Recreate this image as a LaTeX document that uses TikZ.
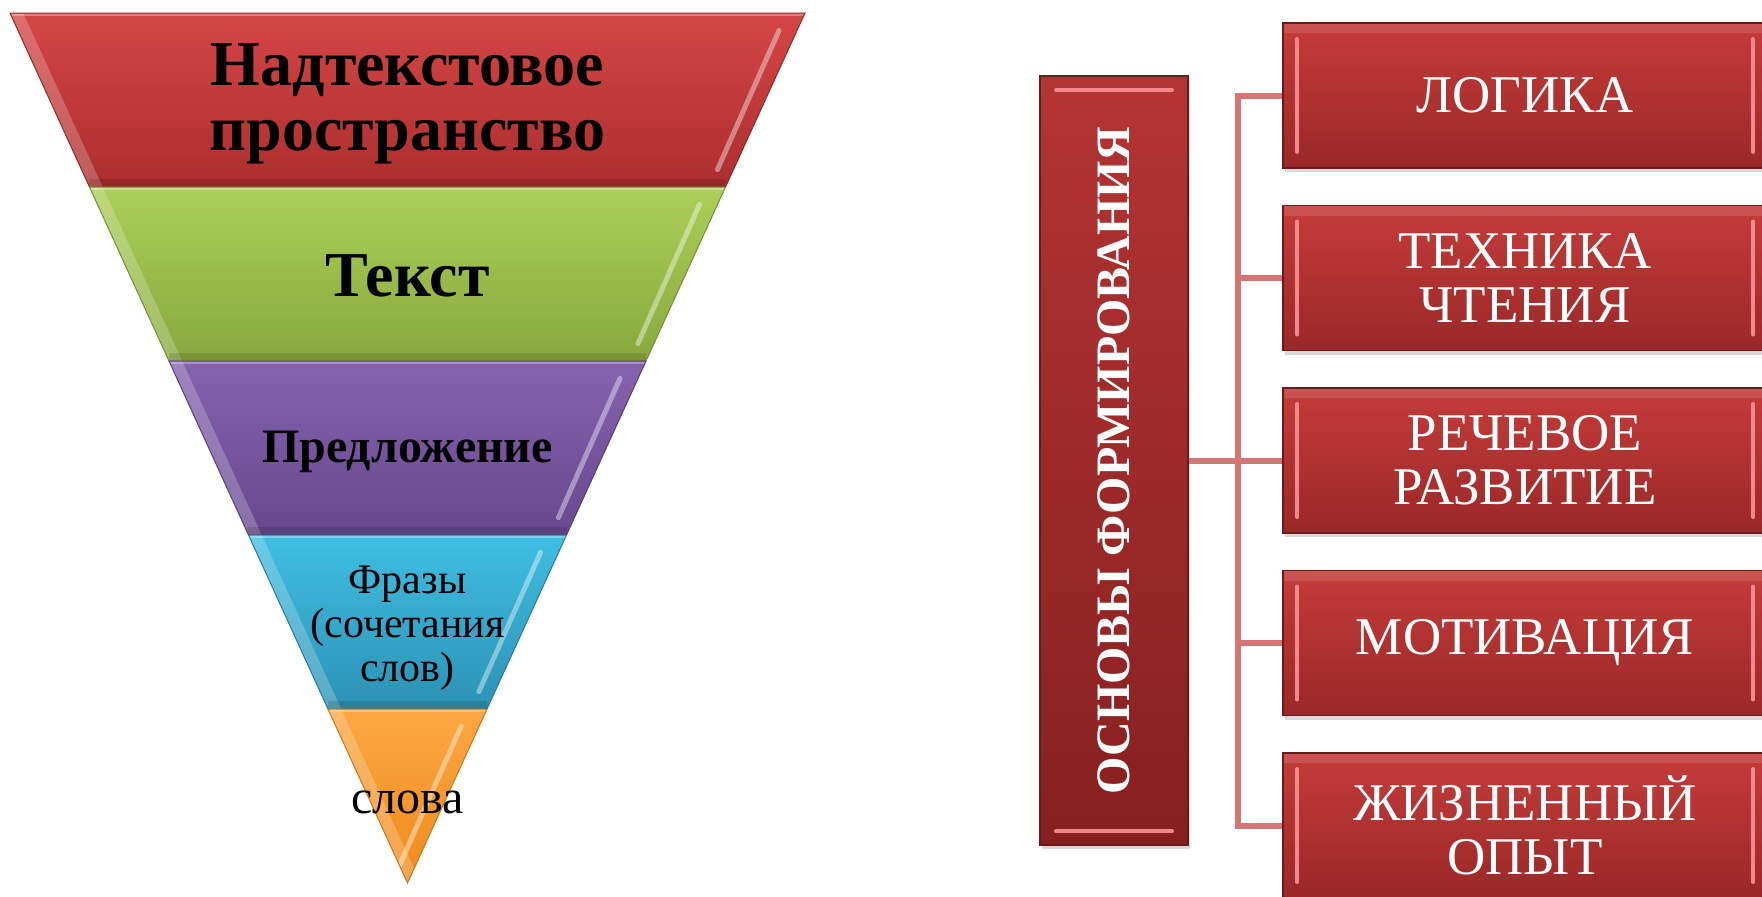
\documentclass[tikz,border=0pt]{standalone}
\usepackage{fontspec}
\setmainfont{Liberation Serif}
\usepackage{graphicx}
\usetikzlibrary{calc,shadows}

\definecolor{redA}{HTML}{D44646}
\definecolor{redB}{HTML}{AC2E2E}
\definecolor{grnA}{HTML}{ACCF58}
\definecolor{grnB}{HTML}{88A83E}
\definecolor{purA}{HTML}{8563AF}
\definecolor{purB}{HTML}{68488E}
\definecolor{bluA}{HTML}{40BEE2}
\definecolor{bluB}{HTML}{2C92B4}
\definecolor{ornA}{HTML}{FCA842}
\definecolor{ornB}{HTML}{EE8A1E}
\definecolor{boxtop}{HTML}{C43C3A}
\definecolor{boxbot}{HTML}{9A2828}
\definecolor{boxedge}{HTML}{6A1A1A}
\definecolor{boxhi}{HTML}{F08A8A}
\definecolor{maintop}{HTML}{B43434}
\definecolor{mainbot}{HTML}{862020}
\definecolor{linkred}{HTML}{D57676}

\begin{document}
\begin{tikzpicture}[x=0.5pt,y=-0.5pt,
    link/.style={draw=linkred, line width=3pt},
    boxbase/.style={rectangle, inner sep=0pt, draw=boxedge, line width=0.6pt,
        text=white, align=center,
        drop shadow={opacity=.3, shadow xshift=1pt, shadow yshift=-2pt}},
    redbox/.style={boxbase, minimum width=242pt, minimum height=72.5pt,
        top color=boxtop, bottom color=boxbot,
        font=\fontsize{26.5}{27}\selectfont,
        path picture={
          \fill[white, opacity=.12] (path picture bounding box.north west) rectangle ([yshift=-5pt]path picture bounding box.north east);
          \draw[boxhi, line width=2pt, line cap=round]
            ([shift={(14,16)}]path picture bounding box.north west) -- ([shift={(14,-16)}]path picture bounding box.south west);
          \draw[boxhi, line width=2pt, line cap=round]
            ([shift={(-14,16)}]path picture bounding box.north east) -- ([shift={(-14,-16)}]path picture bounding box.south east);
        }},
    mainbox/.style={boxbase, minimum width=74pt, minimum height=384.5pt,
        top color=maintop, bottom color=mainbot,
        font=\bfseries\fontsize{24}{26}\selectfont,
        path picture={
          \draw[boxhi, line width=2pt, line cap=round]
            ([shift={(16,14)}]path picture bounding box.north west) -- ([shift={(-16,14)}]path picture bounding box.north east);
          \draw[boxhi, line width=2pt, line cap=round]
            ([shift={(16,-14)}]path picture bounding box.south west) -- ([shift={(-16,-14)}]path picture bounding box.south east);
        }},
  ]
  \useasboundingbox (0,0) rectangle (1762,896);

  % inverted pyramid
  \coordinate (tl) at (10,13);
  \coordinate (tr) at (805,13);
  \coordinate (ap) at (407.5,883);
  \foreach \i/\ca/\cb in {0/redA/redB,1/grnA/grnB,2/purA/purB,3/bluA/bluB,4/ornA/ornB}{
    \pgfmathsetmacro{\ta}{\i/5}
    \pgfmathsetmacro{\tb}{(\i+1)/5}
    \pgfmathsetmacro{\tc}{\ta+0.02}
    \pgfmathsetmacro{\td}{\tb-0.02}
    \path[top color=\ca, bottom color=\cb, draw=\cb!85!black, line width=.5pt,
          path picture={
            \draw[white, opacity=.22, line width=12pt] (tl) -- (ap);
            \draw[white, opacity=.4, line width=2.5pt, line cap=round]
              ($($(tr)!\tc!(ap)$)+(-18,0)$) -- ($($(tr)!\td!(ap)$)+(-16,0)$);
            \draw[white, opacity=.3, line width=3pt] ($(tl)!\ta!(ap)$) -- ($(tr)!\ta!(ap)$);
            \draw[black, opacity=.12, line width=8pt] ($(tl)!\tb!(ap)$) -- ($(tr)!\tb!(ap)$);
          }]
      ($(tl)!\ta!(ap)$) -- ($(tr)!\ta!(ap)$) -- ($(tr)!\tb!(ap)$) -- ($(tl)!\tb!(ap)$) -- cycle;
  }

  \node[font=\bfseries\fontsize{32}{32.5}\selectfont, align=center] (n1) at (407.5,104) {Надтекстовое\\пространство};
  \node[font=\bfseries\fontsize{32}{32}\selectfont] (n2) at (407.5,276) {Текст};
  \node[font=\bfseries\fontsize{24}{26}\selectfont] (n3) at (407.5,452) {Предложение};
  \node[font=\fontsize{21}{22}\selectfont, align=center] (n4) at (407.5,628) {Фразы\\(сочетания\\слов)};
  \node[font=\fontsize{24}{26}\selectfont] (n5) at (407.5,802) {слова};

  % right scheme
  \node[mainbox] (main) at (1114,460.5) {\rotatebox{90}{ОСНОВЫ ФОРМИРОВАНИЯ}};
  \foreach \i/\txt in {1/ЛОГИКА, 2/{ТЕХНИКА\\ЧТЕНИЯ}, 3/{РЕЧЕВОЕ\\РАЗВИТИЕ}, 4/МОТИВАЦИЯ, 5/{ЖИЗНЕННЫЙ\\ОПЫТ}}
    \node[redbox] (b\i) at (1525,{95.5+182.5*(\i-1)}) {\txt};

  \coordinate (trunk) at (1238,0);
  \draw[link] (b1.west) -| (trunk |- b5.west) -- (b5.west);
  \foreach \b in {b2,b3,b4}
    \draw[link] (trunk |- \b.west) -- (\b.west);
  \draw[link] (main.east) -- (trunk |- main.east);
\end{tikzpicture}
\end{document}
